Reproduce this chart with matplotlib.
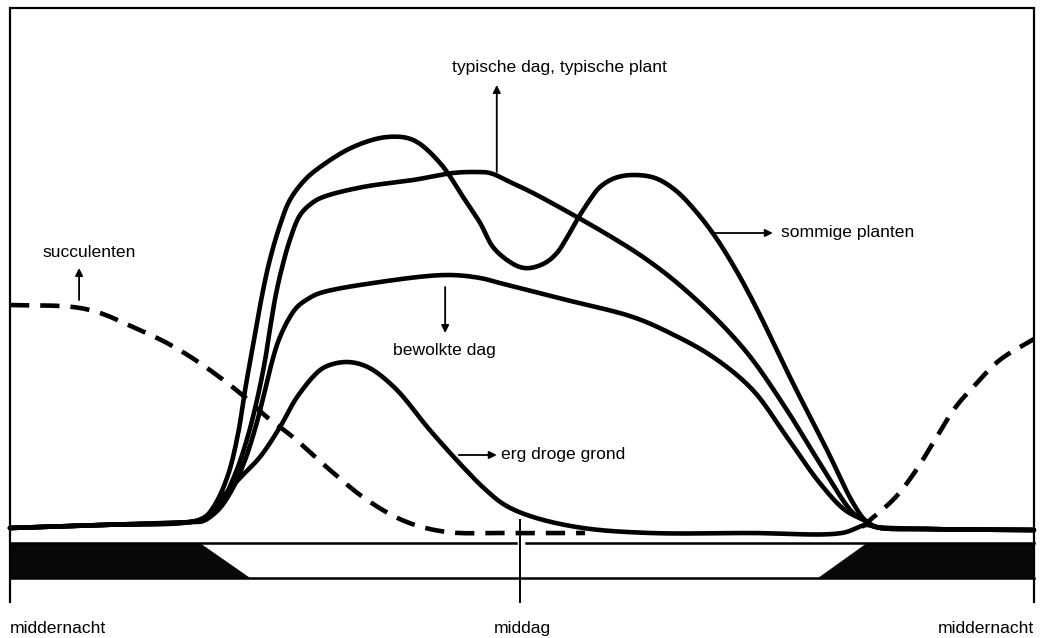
import matplotlib
matplotlib.use("Agg")
from matplotlib import pyplot as plt
import numpy as np

plt.rcParams["font.family"] = ["Liberation Sans", "DejaVu Sans"]

# time of day in hours, stomatal opening in relative units (0 = closed)
sommige_h = [0, 2.11, 4.22, 4.52, 4.80, 5.11, 5.34, 5.53, 5.70, 5.91, 6.09, 6.33,
             6.56, 6.91, 7.27, 8.04, 8.84, 9.45, 10.08, 10.62, 11.02, 11.32, 11.65,
             11.95, 12.19, 12.54, 12.82, 13.05, 13.29, 13.59, 13.83, 14.18, 14.60,
             15.12, 15.59, 16.05, 16.52, 16.99, 17.46, 18.35, 19.15, 19.76, 20.06,
             20.30, 21.50, 24.00]
sommige_y = [-1, 2, 5, 8, 22, 52, 92, 142, 182, 232, 267, 302, 327, 347, 360, 380,
             390, 387, 364, 330, 304, 280, 267, 260, 259, 264, 274, 289, 307, 327,
             340, 349, 352, 349, 337, 317, 291, 259, 222, 144, 77, 24, 6, 0, -2, -3]

typisch_h = [0, 2.11, 4.22, 4.57, 4.92, 5.27, 5.55, 5.79, 5.98, 6.09, 6.23, 6.38,
             6.56, 6.80, 7.08, 7.34, 8.27, 9.45, 10.38, 10.90, 11.25, 11.72, 12.26,
             13.29, 14.06, 14.77, 15.47, 16.17, 16.83, 17.41, 18.21, 18.98, 19.76,
             20.06, 20.30, 21.50, 24.00]
typisch_y = [-1, 2, 5, 7, 22, 52, 87, 127, 167, 197, 232, 260, 287, 312, 324, 330,
             340, 347, 354, 355, 354, 345, 334, 310, 291, 272, 250, 224, 196, 167,
             117, 64, 14, 6, 0, -2, -3]

bewolkt_h = [0, 2.11, 4.22, 4.52, 4.88, 5.20, 5.51, 5.77, 5.98, 6.14, 6.30, 6.52,
             6.73, 6.98, 7.27, 8.67, 10.24, 11.02, 11.48, 13.05, 14.60, 15.47, 16.48,
             17.41, 18.21, 18.98, 19.57, 20.06, 20.30, 21.50, 24.00]
bewolkt_y = [-1, 2, 5, 6, 17, 37, 67, 102, 137, 165, 187, 207, 220, 228, 234, 245,
             252, 249, 244, 227, 210, 194, 170, 137, 90, 44, 17, 6, 0, -2, -3]

droog_h = [0, 2.11, 4.34, 4.69, 4.92, 5.39, 5.86, 6.33, 6.73, 7.27, 7.57, 7.90, 8.20,
           8.51, 9.07, 9.84, 10.62, 11.13, 11.60, 12.26, 13.43, 15.00, 17.34, 19.50,
           20.06, 20.30, 21.50, 24.00]
droog_y = [-1, 2, 6, 14, 27, 49, 70, 100, 130, 157, 163, 165, 163, 157, 137, 97, 60,
           38, 22, 10, -1, -6, -6, -6, 2, 0, -2, -3]

# succulents (CAM): open at night, two pieces
succ_nacht_h = [0, 1.48, 2.11, 2.88, 3.68, 4.45, 5.39, 6.02, 6.63, 7.50, 8.37, 9.30,
                10.24, 11.48, 13.48]
succ_nacht_y = [222, 220, 214, 200, 184, 164, 134, 110, 90, 57, 27, 5, -5, -6, -6]
succ_avond_h = [19.97, 20.16, 20.74, 21.21, 21.68, 22.15, 22.62, 23.20, 24.00]
succ_avond_y = [0, 7, 29, 55, 87, 119, 142, 167, 188]

# day/night bar: dark until dawn, dark again after dusk
dawn_h = [4.45, 5.63]   # top edge, bottom edge
dusk_h = [18.94, 20.09]  # bottom edge, top edge
bar_y = [-16, -51]

time_ticks = [0, 12, 24]
time_labels = ["middernacht", "middag", "middernacht"]


def smooth(xs, ys, n=12):
    """Centripetal Catmull-Rom through the read points (drawing only)."""
    p = np.column_stack([xs, ys]).astype(float)
    # scale so both axes count roughly like pixels
    s = np.array([42.67, 1.0])
    q = p * s
    q = np.vstack([2 * q[0] - q[1], q, 2 * q[-1] - q[-2]])
    out = [q[1]]
    for i in range(1, len(q) - 2):
        p0, p1, p2, p3 = q[i - 1], q[i], q[i + 1], q[i + 2]
        t0 = 0.0
        t1 = t0 + np.linalg.norm(p1 - p0) ** 0.5 + 1e-9
        t2 = t1 + np.linalg.norm(p2 - p1) ** 0.5 + 1e-9
        t3 = t2 + np.linalg.norm(p3 - p2) ** 0.5 + 1e-9
        for t in np.linspace(t1, t2, n)[1:]:
            a1 = (t1 - t) / (t1 - t0) * p0 + (t - t0) / (t1 - t0) * p1
            a2 = (t2 - t) / (t2 - t1) * p1 + (t - t1) / (t2 - t1) * p2
            a3 = (t3 - t) / (t3 - t2) * p2 + (t - t2) / (t3 - t2) * p3
            b1 = (t2 - t) / (t2 - t0) * a1 + (t - t0) / (t2 - t0) * a2
            b2 = (t3 - t) / (t3 - t1) * a2 + (t - t1) / (t3 - t1) * a3
            out.append((t2 - t) / (t2 - t1) * b1 + (t - t1) / (t2 - t1) * b2)
    out = np.array(out) / s
    return out[:, 0], out[:, 1]


fig = plt.figure(figsize=(10.42, 6.38), dpi=100)
ax = fig.add_axes([0, 0, 1, 1])
ax.set_xlim(-0.234, 24.19)
ax.set_ylim(-111, 527)
ax.axis("off")

lw = 3.3
for h, y in [(sommige_h, sommige_y), (typisch_h, typisch_y),
             (bewolkt_h, bewolkt_y), (droog_h, droog_y)]:
    ax.plot(*smooth(h, y), color="black", lw=lw, solid_joinstyle="round",
            solid_capstyle="round", zorder=3)
for h, y in [(succ_nacht_h, succ_nacht_y), (succ_avond_h, succ_avond_y)]:
    ax.plot(*smooth(h, y), color="black", lw=lw, ls=(0, (4.2, 2.4)), zorder=3)

# day/night bar
top, bot = bar_y
ax.fill([0, dawn_h[0], dawn_h[1], 0], [top, top, bot, bot], color="#080808", lw=0)
ax.fill([dusk_h[0], dusk_h[1], 24, 24], [bot, top, top, bot], color="#080808", lw=0)
ax.plot([0, 11.85], [top, top], color="black", lw=1.8)
ax.plot([12.1, 24], [top, top], color="black", lw=1.8)
ax.plot([0, 24], [bot, bot], color="black", lw=1.8)
ax.plot([11.95, 11.95], [7, -75], color="black", lw=1.4)

# frame
ax.plot([0, 0, 24, 24], [-75, 519, 519, -75], color="black", lw=1.6,
        solid_joinstyle="miter")

for t, lab, ha in zip(time_ticks, time_labels, ["left", "center", "right"]):
    ax.text(t, -106, lab, ha=ha, va="baseline", fontsize=12.6)

arrow = dict(arrowstyle="-|>", lw=1.3, color="black", mutation_scale=11,
             shrinkA=0, shrinkB=0)
fs = 12.6
ax.annotate("", xy=(11.41, 442), xytext=(11.41, 355), arrowprops=arrow)
ax.text(10.36, 455, "typische dag, typische plant", fontsize=fs, va="baseline")
ax.annotate("", xy=(17.88, 294), xytext=(16.48, 294), arrowprops=arrow)
ax.text(18.08, 290, "sommige planten", fontsize=fs, va="baseline")
ax.annotate("", xy=(1.62, 259), xytext=(1.62, 227), arrowprops=arrow)
ax.text(0.77, 270, "succulenten", fontsize=fs, va="baseline")
ax.annotate("", xy=(10.20, 194), xytext=(10.20, 240), arrowprops=arrow)
ax.text(8.98, 172, "bewolkte dag", fontsize=fs, va="baseline")
ax.annotate("", xy=(11.41, 72), xytext=(10.52, 72), arrowprops=arrow)
ax.text(11.5, 68, "erg droge grond", fontsize=fs, va="baseline")

fig.savefig("out.png", dpi=100)
